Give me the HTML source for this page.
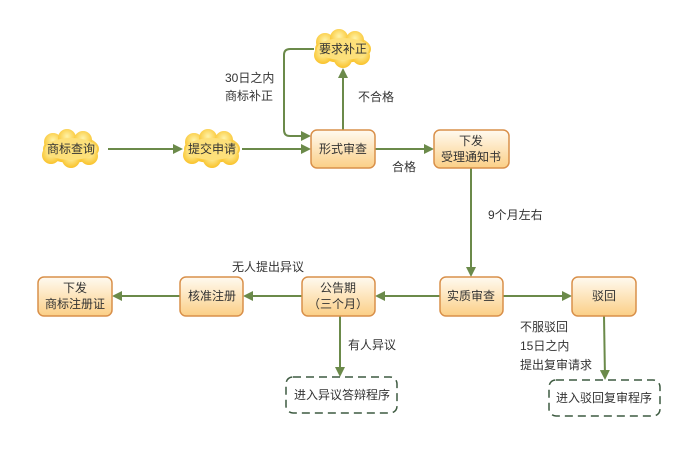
<!DOCTYPE html>
<html><head><meta charset="utf-8"><style>
body{margin:0;background:#fff;}
svg text{font-family:"Liberation Sans","Noto Sans CJK SC",sans-serif;font-size:12px;fill:#333;}
</style></head><body>
<svg width="699" height="462" xmlns="http://www.w3.org/2000/svg">
<defs>
<linearGradient id="g" x1="0" y1="0" x2="0" y2="1"><stop offset="0" stop-color="#fffaf0"/><stop offset="1" stop-color="#fbcf86"/></linearGradient>
<radialGradient id="c" cx="0.5" cy="0.4" r="0.6"><stop offset="0" stop-color="#fff3a8"/><stop offset="1" stop-color="#f9c22a"/></radialGradient>
<marker id="a" markerWidth="10" markerHeight="10" refX="8" refY="5" orient="auto" markerUnits="userSpaceOnUse"><path d="M0,0 L10,5 L0,10z" fill="#6b8a4a"/></marker>
<g id="cloud"><ellipse cx="0" cy="0" rx="28" ry="14" fill="url(#c)"/><circle cx="-18" cy="-7" r="9" fill="url(#c)"/><circle cx="-4" cy="-11" r="9" fill="url(#c)"/><circle cx="12" cy="-9" r="9" fill="url(#c)"/><circle cx="-20" cy="6" r="9" fill="url(#c)"/><circle cx="0" cy="10" r="9" fill="url(#c)"/><circle cx="18" cy="7" r="9" fill="url(#c)"/><ellipse cx="0" cy="0" rx="26" ry="11" fill="#fde07a"/></g>
</defs>
<g stroke="#6b8a4a" stroke-width="2" fill="none">
<line x1="108" y1="149" x2="181" y2="149" marker-end="url(#a)"/>
<line x1="242" y1="149" x2="309" y2="149" marker-end="url(#a)"/>
<path d="M314,49 H290 Q284,49 284,55 V130 Q284,136 290,136 H309" marker-end="url(#a)"/>
<line x1="343" y1="130" x2="343" y2="70" marker-end="url(#a)"/>
<line x1="375" y1="149" x2="432" y2="149" marker-end="url(#a)"/>
<line x1="471" y1="168" x2="471" y2="275" marker-end="url(#a)"/>
<line x1="440" y1="296" x2="377" y2="296" marker-end="url(#a)"/>
<line x1="302" y1="296" x2="245" y2="296" marker-end="url(#a)"/>
<line x1="180" y1="296" x2="114" y2="296" marker-end="url(#a)"/>
<line x1="503" y1="296" x2="570" y2="296" marker-end="url(#a)"/>
<line x1="340" y1="316" x2="340" y2="375" marker-end="url(#a)"/>
<line x1="604" y1="316" x2="605" y2="378" marker-end="url(#a)"/>
</g>
<use href="#cloud" x="71" y="149"/>
<use href="#cloud" x="212" y="149"/>
<use href="#cloud" x="343" y="49"/>
<g fill="url(#g)" stroke="#d9904a" stroke-width="1.5">
<rect x="311" y="130" width="64" height="38" rx="6"/>
<rect x="434" y="130" width="75" height="38" rx="6"/>
<rect x="38" y="277" width="74" height="39" rx="6"/>
<rect x="180" y="277" width="63" height="39" rx="6"/>
<rect x="302" y="277" width="73" height="39" rx="6"/>
<rect x="440" y="277" width="63" height="39" rx="6"/>
<rect x="572" y="277" width="64" height="39" rx="6"/>
</g>
<g fill="none" stroke="#3d5a40" stroke-width="1.5" stroke-dasharray="8,5">
<rect x="286" y="377" width="111" height="36" rx="7"/>
<rect x="549" y="380" width="111" height="36" rx="7"/>
</g>
<g text-anchor="middle">
<text x="71" y="153">商标查询</text>
<text x="212" y="153">提交申请</text>
<text x="343" y="53">要求补正</text>
<text x="343" y="153">形式审查</text>
<text x="471" y="145">下发</text><text x="471" y="161">受理通知书</text>
<text x="75" y="292">下发</text><text x="75" y="308">商标注册证</text>
<text x="212" y="300">核准注册</text>
<text x="338" y="292">公告期</text><text x="338" y="308">（三个月）</text>
<text x="471" y="300">实质审查</text>
<text x="604" y="300">驳回</text>
<text x="342" y="399">进入异议答辩程序</text>
<text x="604" y="402">进入驳回复审程序</text>
</g>
<text x="225" y="82">30日之内</text>
<text x="225" y="100">商标补正</text>
<text x="358" y="101">不合格</text>
<text x="392" y="171">合格</text>
<text x="488" y="219">9个月左右</text>
<text x="232" y="271">无人提出异议</text>
<text x="348" y="349">有人异议</text>
<text x="520" y="331">不服驳回</text>
<text x="520" y="350">15日之内</text>
<text x="520" y="369">提出复审请求</text>
</svg>
</body></html>
